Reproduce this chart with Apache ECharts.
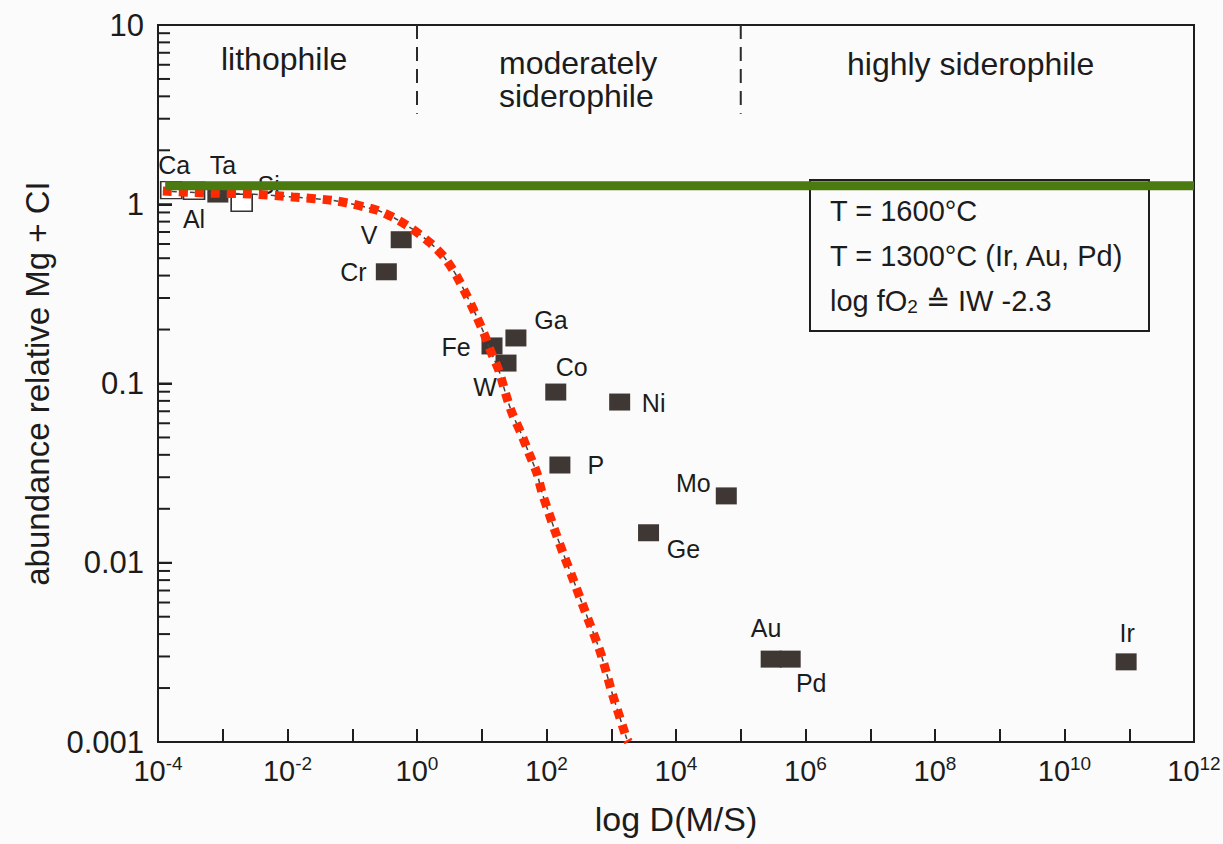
<!DOCTYPE html>
<html>
<head>
<meta charset="utf-8">
<script src="https://cdn.jsdelivr.net/npm/echarts@6/dist/echarts.min.js"></script>
<style>
  html, body { margin: 0; padding: 0; background: #fbfbfb; }
  #chart { width: 1223px; height: 844px; }
</style>
</head>
<body>
<div id="chart"></div>
<script>
// Element partitioning between metal and silicate: abundance (relative to Mg and CI) vs. D(M/S)
const elements   = ['Ca', 'Al', 'Ta', 'Si', 'V', 'Cr', 'Fe', 'Ga', 'W', 'Co', 'Ni', 'P', 'Mo', 'Ge', 'Au', 'Pd', 'Ir'];
const dMetalSil  = [1.6e-4, 3.6e-4, 8.4e-4, 1.96e-3, 0.57, 0.336, 14.4, 33.7, 23.7, 139, 1349, 161, 5.98e4, 3767, 2.95e5, 5.8e5, 8.95e10];
const abundance  = [1.20, 1.19, 1.14, 1.02, 0.634, 0.42, 0.162, 0.1795, 0.130, 0.0896, 0.0788, 0.0351, 0.0236, 0.0147, 0.0029, 0.0029, 0.0028];
const openMarkers = ['Ca', 'Al', 'Si'];

// model depletion curve
const modelD = [1.19e-4, 5.69e-4, 2.61e-3, 0.0120, 0.0570, 0.2355, 0.447, 0.845, 1.60, 2.62, 4.02, 5.73, 7.89, 10.8, 13.9, 18.5, 23.7, 29.3, 40.3, 53.5, 71.1, 84.9, 109, 139, 185, 237, 404, 687, 1052, 1349, 1726, 1850];
const modelAbundance = [1.185, 1.155, 1.141, 1.098, 1.043, 0.929, 0.838, 0.728, 0.608, 0.508, 0.403, 0.315, 0.247, 0.191, 0.150, 0.1175, 0.0863, 0.0685, 0.0529, 0.0409, 0.0316, 0.0248, 0.0189, 0.01465, 0.01104, 0.00876, 0.00524, 0.00313, 0.00183, 0.00138, 0.00105, 0.001];

// horizontal reference level
const referenceLevel = 1.27;
const referenceSpan = [1.29e-4, 1e12];

// lithophile / moderately / highly siderophile boundaries
const regionBounds = [1, 1e5];
const regionBoundTop = 10;
const regionBoundBottom = 3.2;

const xTickExponents = [-4, -2, 0, 2, 4, 6, 8, 10, 12];
const yTickLabels = ['0.001', '0.01', '0.1', '1', '10'];

const X_MIN = 1e-4, X_MAX = 1e12, Y_MIN = 1e-3, Y_MAX = 10;

const FONT = '"Liberation Sans", Arial, Helvetica, sans-serif';
const INK = '#1c1c1c';
const AXIS = '#1e1e1e';
const MARK = '#3f3734';

// label placement around each marker: [dx, dy]
const labelOffsets = {
  Ca: [3, -25], Al: [0, 28], Ta: [5, -29], Si: [27, -18],
  V: [-32, -5], Cr: [-33, 0], Fe: [-36, 1], Ga: [35, -18], W: [-21, 24],
  Co: [16, -25], Ni: [34, 1], P: [36, 0], Mo: [-33, -13], Ge: [35, 16],
  Au: [-5, -31], Pd: [21, 24], Ir: [1, -29]
};

// y-axis tick values: decades plus log-spaced minor ticks (2..9 within each decade)
const yMajorTicks = [1e-3, 1e-2, 1e-1, 1, 10];
const yMinorTicks = [];
for (let e = -3; e < 1; e++) {
  for (let k = 2; k <= 9; k++) yMinorTicks.push(k * Math.pow(10, e));
}

const pointData = elements.map((name, i) => {
  const open = openMarkers.includes(name);
  return {
    name: name,
    value: [dMetalSil[i], abundance[i]],
    itemStyle: open
      ? { color: '#ffffff', borderColor: '#333333', borderWidth: 1.5, opacity: 1 }
      : { color: MARK, borderColor: MARK, borderWidth: 0, opacity: 1 },
    label: { offset: labelOffsets[name] }
  };
});

const curveData = modelD.map((d, i) => [d, modelAbundance[i]]);

const boundarySeries = regionBounds.map(b => ({
  type: 'line',
  data: [[b, regionBoundTop], [b, regionBoundBottom]],
  showSymbol: false,
  silent: true,
  z: 2,
  lineStyle: { color: '#2a2a2a', width: 2, type: [14, 8] }
}));

const baseGraphics = [
  { type: 'text', left: 221, top: 43, z: 1, style: { text: 'lithophile', fontSize: 32, fill: INK, fontFamily: FONT } },
  { type: 'text', left: 499, top: 46, z: 1, style: { text: 'moderately\nsiderophile', fontSize: 32, lineHeight: 33, align: 'center', fill: INK, fontFamily: FONT } },
  { type: 'text', left: 847, top: 48, z: 1, style: { text: 'highly siderophile', fontSize: 32, fill: INK, fontFamily: FONT } },
  {
    type: 'group', left: 809, top: 179, z: 1,
    children: [
      { type: 'rect', shape: { x: 0, y: 0, width: 339, height: 151 }, style: { fill: '#fbfbfb', stroke: AXIS, lineWidth: 2 } },
      { type: 'text', x: 20, y: 16, style: { text: 'T = 1600°C', fontSize: 29, fill: INK, fontFamily: FONT } },
      { type: 'text', x: 20, y: 61, style: { text: 'T = 1300°C (Ir, Au, Pd)', fontSize: 29, fill: INK, fontFamily: FONT } },
      {
        type: 'text', x: 20, y: 105,
        style: {
          text: '{a|log fO}{sub|2}{a| ≙ IW -2.3}',
          rich: {
            a: { fontSize: 29, fill: INK, color: INK, fontFamily: FONT },
            sub: { fontSize: 19, fill: INK, color: INK, fontFamily: FONT, padding: [12, 0, 0, 0] }
          }
        }
      }
    ]
  }
];

const chart = echarts.init(document.getElementById('chart'), null, { renderer: 'svg' });

chart.setOption({
  backgroundColor: '#fbfbfb',
  animation: false,
  textStyle: { fontFamily: FONT },
  grid: {
    left: 158, right: 29, top: 25, bottom: 102,
    containLabel: false,
    outerBoundsMode: 'none',
    show: true, borderColor: AXIS, borderWidth: 2, backgroundColor: 'transparent'
  },
  xAxis: {
    type: 'log', logBase: 10, min: X_MIN, max: X_MAX, interval: 1,
    name: 'log D(M/S)', nameLocation: 'middle', nameGap: 60,
    nameTextStyle: { fontSize: 34, color: INK, fontFamily: FONT },
    axisLine: { show: true, lineStyle: { color: AXIS, width: 2 } },
    axisTick: { show: true, inside: true, length: 13, lineStyle: { color: AXIS, width: 2 } },
    splitLine: { show: false },
    axisLabel: {
      margin: 12, color: INK, fontFamily: FONT,
      formatter: function (v) {
        const e = Math.round(Math.log10(v));
        if (!xTickExponents.includes(e)) return '';
        return '{b|10}{s|' + e + '}';
      },
      rich: {
        b: { fontSize: 29, fontFamily: FONT, color: INK },
        s: { fontSize: 19, fontFamily: FONT, color: INK, padding: [0, 0, 14, 0] }
      }
    }
  },
  yAxis: {
    type: 'log', logBase: 10, min: Y_MIN, max: Y_MAX, interval: 1,
    name: 'abundance relative Mg + CI', nameLocation: 'middle', nameGap: 104,
    nameTextStyle: { fontSize: 33, color: INK, fontFamily: FONT },
    axisLine: { show: true, lineStyle: { color: AXIS, width: 2 } },
    axisTick: { show: true, inside: true, length: 14, lineStyle: { color: AXIS, width: 2 } },
    splitLine: { show: false },
    axisLabel: {
      margin: 14, fontSize: 31, color: INK, fontFamily: FONT,
      formatter: function (v) {
        const e = Math.round(Math.log10(v));
        return yTickLabels[e + 3] || '';
      }
    }
  },
  graphic: baseGraphics,
  series: [
    ...boundarySeries,
    {
      type: 'scatter',
      data: pointData,
      symbol: 'rect',
      symbolSize: [21, 17],
      z: 4,
      itemStyle: { opacity: 1 },
      label: {
        show: true,
        position: 'inside',
        formatter: '{b}',
        fontSize: 25,
        color: INK,
        fontFamily: FONT
      }
    },
    {
      // thin dashed model curve
      type: 'line',
      data: curveData,
      showSymbol: false,
      smooth: 0.25,
      silent: true,
      z: 5,
      lineStyle: { color: '#444444', width: 1.5, type: [5, 4] }
    },
    {
      // red dotted overlay of the model curve
      type: 'line',
      data: curveData,
      showSymbol: false,
      smooth: 0.25,
      silent: true,
      z: 6,
      lineStyle: { color: '#ff2a00', width: 9, type: [9, 7], cap: 'butt' }
    },
    {
      type: 'line',
      data: [[referenceSpan[0], referenceLevel], [referenceSpan[1], referenceLevel]],
      showSymbol: false,
      silent: true,
      z: 7,
      lineStyle: { color: '#4a7a10', width: 9 }
    }
  ]
});

// y-axis ticks on the left axis, positioned through the axis scale
const xAxisPx = chart.convertToPixel({ xAxisIndex: 0 }, X_MIN);
const tickGraphics = yMajorTicks.map(v => ({ v: v, len: 14 }))
  .concat(yMinorTicks.map(v => ({ v: v, len: 12 })))
  .map(t => {
    const y = chart.convertToPixel({ yAxisIndex: 0 }, t.v);
    return {
      type: 'rect', z: 100, silent: true,
      shape: { x: xAxisPx, y: y - 1, width: t.len, height: 2 },
      style: { fill: AXIS }
    };
  });
chart.setOption({ graphic: baseGraphics.concat(tickGraphics) });
</script>
</body>
</html>
